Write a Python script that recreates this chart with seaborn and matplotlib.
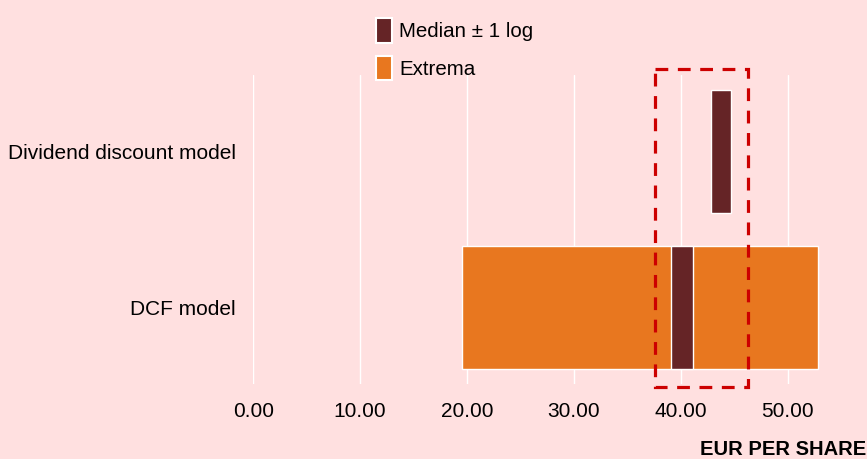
import numpy as np
import pandas as pd
import matplotlib.pyplot as plt
import seaborn as sns
from matplotlib.patches import Patch, Rectangle

sns.set_style('whitegrid')
plt.rcParams['font.family'] = ['Liberation Sans', 'DejaVu Sans']
plt.rcParams['text.color'] = 'black'
plt.rcParams['xtick.color'] = 'black'
plt.rcParams['ytick.color'] = 'black'

models = ['Dividend discount model', 'DCF model']
extrema_low = [np.nan, 19.5]
extrema_high = [np.nan, 52.8]
median_low = [42.8, 39.1]
median_high = [44.7, 41.1]
box_range = [37.6, 46.3]
xticks = [0, 10, 20, 30, 40, 50]

bg = '#FFE0E0'
brown = '#652426'
orange = '#E8771F'
red = '#CC0000'

df = pd.DataFrame({'model': models, 'ext_lo': extrema_low, 'ext_hi': extrema_high,
                   'med_lo': median_low, 'med_hi': median_high})

fig, ax = plt.subplots(figsize=(8.67, 4.59), dpi=100)
fig.patch.set_facecolor(bg)
ax.set_facecolor(bg)
fig.subplots_adjust(left=0.292, right=1.0, top=0.837, bottom=0.163)

pos = np.arange(len(df))
ax.barh(pos, df['ext_hi'] - df['ext_lo'], left=df['ext_lo'], height=0.79,
        color=orange, edgecolor='white', linewidth=1, zorder=2)
ax.barh(pos, df['med_hi'] - df['med_lo'], left=df['med_lo'], height=0.79,
        color=brown, edgecolor='white', linewidth=1, zorder=3)

ax.add_patch(Rectangle((box_range[0], -0.525), box_range[1] - box_range[0], 2.03,
                       fill=False, edgecolor=red, linewidth=2.3,
                       linestyle=(0, (4, 3)), clip_on=False, zorder=4))

ax.set_yticks(pos)
ax.set_yticklabels(df['model'], fontsize=15)
ax.set_ylim(1.49, -0.49)
ax.set_xlim(0, 57.4)
ax.set_xticks(xticks)
ax.set_xticklabels([f'{v:.2f}' for v in xticks], fontsize=15)
ax.tick_params(axis='y', length=0, pad=12.5)
ax.tick_params(axis='x', length=0, pad=13)
ax.grid(axis='x', color='white', linewidth=1)
ax.grid(axis='y', visible=False)
sns.despine(ax=ax, left=True, bottom=True)

handles = [Patch(facecolor=brown, edgecolor='white', linewidth=1.5, label='Median ± 1 log'),
           Patch(facecolor=orange, edgecolor='white', linewidth=1.5, label='Extrema')]
ax.legend(handles=handles, loc='upper left', bbox_to_anchor=(0.420, 0.987), bbox_transform=fig.transFigure,
          frameon=False, fontsize=14.8, handlelength=0.75, handleheight=1.45,
          handletextpad=0.35, labelspacing=0.65, borderaxespad=0.2)

fig.text(0.999, 0.0087, 'EUR PER SHARE', ha='right', va='baseline', fontsize=14.5, fontweight='bold')

plt.savefig('out.png', dpi=100, facecolor=bg)
